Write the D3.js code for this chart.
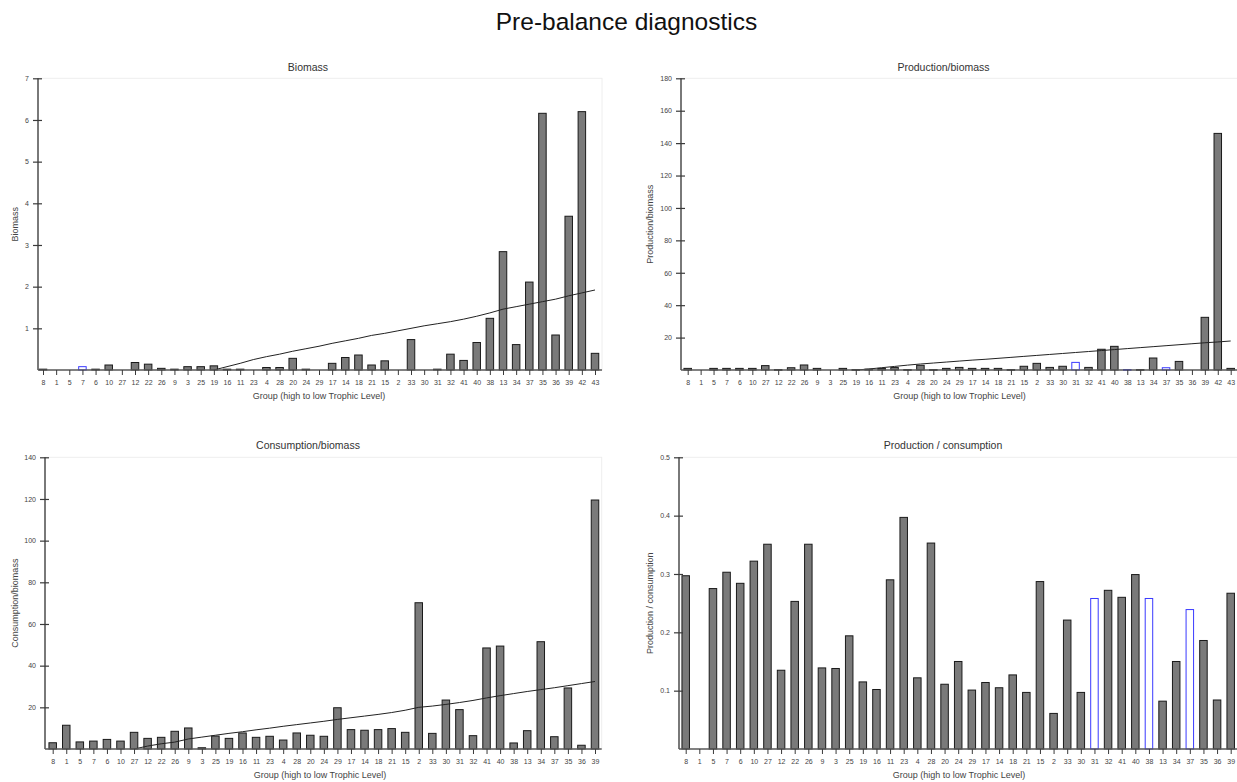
<!DOCTYPE html>
<html>
<head>
<meta charset="utf-8">
<script src="https://cdn.jsdelivr.net/npm/d3@7"></script>
<style>
  html, body { margin: 0; padding: 0; background: #fff; }
  svg { display: block; font-family: "Liberation Sans", Arial, sans-serif; }
</style>
</head>
<body>
<svg id="chart" width="1237" height="782"></svg>
<script>
// ---------------- DATA ----------------
const mainTitle = "Pre-balance diagnostics";
const xAxisTitle = "Group (high to low Trophic Level)";

const groupsTop = ["8","1","5","7","6","10","27","12","22","26","9","3","25","19","16","11","23","4","28","20","24","29","17","14","18","21","15","2","33","30","31","32","41","40","38","13","34","37","35","36","39","42","43"];
const groupsBottom = ["8","1","5","7","6","10","27","12","22","26","9","3","25","19","16","11","23","4","28","20","24","29","17","14","18","21","15","2","33","30","31","32","41","40","38","13","34","37","35","36","39"];

const biomassValues = [0.02,0,0,0.08,0.02,0.12,0,0.18,0.14,0.04,0.02,0.08,0.08,0.1,0.02,0.02,0,0.06,0.06,0.28,0.02,0,0.16,0.3,0.36,0.12,0.22,0,0.73,0,0.02,0.38,0.23,0.66,1.24,2.84,0.61,2.11,6.16,0.84,3.69,6.2,0.4];
const biomassBlue = ["7"];
const biomassTrendGroups = ["19","16","11","23","4","28","20","24","29","17","14","18","21","15","2","33","30","31","32","41","40","38","13","34","37","35","36","39","42","43"];
const biomassTrend = [0.0,0.08,0.16,0.25,0.32,0.38,0.45,0.51,0.57,0.64,0.70,0.76,0.83,0.88,0.94,1.0,1.06,1.11,1.16,1.22,1.29,1.37,1.46,1.52,1.58,1.64,1.70,1.78,1.85,1.92];
const biomassTicks = [1,2,3,4,5,6,7];

const pbValues = [1.0,0,1.0,1.0,1.0,1.0,2.7,0.3,1.4,3.1,1.0,0,1.0,0.3,0.5,1.0,1.5,0.3,2.9,0.3,1.0,1.6,1.0,1.0,1.0,0.3,2.3,4.1,1.6,2.3,4.7,1.6,12.8,14.6,0.3,0.3,7.4,1.4,5.3,0,32.5,146,1.0];
const pbBlue = ["31","38","37"];
const pbTrendGroups = ["19","16","11","23","4","28","20","24","29","17","14","18","21","15","2","33","30","31","32","41","40","38","13","34","37","35","36","39","42","43"];
const pbTrend = [0,0.6,1.4,2.2,3.0,3.7,4.3,4.9,5.5,6.1,6.6,7.2,7.8,8.4,9.0,9.6,10.2,10.8,11.4,12.0,12.6,13.2,13.8,14.4,15.0,15.6,16.2,16.8,17.3,17.9];
const pbTicks = [20,40,60,80,100,120,140,160,180];

const qbValues = [3.0,11.4,3.4,3.8,4.6,3.8,8.0,5.1,5.6,8.5,10.1,0.6,6.2,5.1,7.7,5.6,6.1,4.3,7.7,6.6,6.1,19.8,9.3,9.0,9.3,9.8,8.0,70.2,7.5,23.5,18.9,6.4,48.5,49.4,2.9,8.8,51.5,5.9,29.3,1.8,119.5];
const qbBlue = [];
const qbTrendGroups = ["27","12","22","26","9","3","25","19","16","11","23","4","28","20","24","29","17","14","18","21","15","2","33","30","31","32","41","40","38","13","34","37","35","36","39"];
const qbTrend = [0,1.4,2.5,3.3,4.8,5.7,6.6,7.5,8.3,9.2,10.0,10.9,11.7,12.5,13.3,14.2,15.0,15.8,16.6,17.5,18.6,20.0,20.6,21.4,22.3,23.3,24.5,25.6,26.6,27.6,28.5,29.4,30.4,31.4,32.4];
const qbTicks = [20,40,60,80,100,120,140];

const pqValues = [0.297,0,0.275,0.303,0.284,0.322,0.351,0.135,0.253,0.351,0.139,0.138,0.194,0.115,0.102,0.29,0.397,0.122,0.353,0.111,0.15,0.101,0.114,0.105,0.127,0.097,0.287,0.061,0.221,0.097,0.258,0.272,0.26,0.299,0.258,0.082,0.15,0.239,0.186,0.084,0.267];
const pqBlue = ["31","38","37"];
const pqTicks = [0.1,0.2,0.3,0.4,0.5];

// ---------------- LAYOUT ----------------
const svg = d3.select("#chart");

svg.append("text")
  .attr("x", 626.5).attr("y", 29.5)
  .attr("text-anchor", "middle")
  .attr("font-size", 24.5)
  .attr("fill", "#111")
  .text(mainTitle);

const panels = [
  { title: "Biomass", yTitle: "Biomass", groups: groupsTop, values: biomassValues, blue: biomassBlue,
    trendGroups: biomassTrendGroups, trend: biomassTrend, ymax: 7, ticks: biomassTicks, fmt: d3.format("d"),
    axisX: 38, right: 602, firstX: 43, lastX: 595, top: 78.3, base: 370,
    titleX: 308, titleY: 70.5, yTitleX: 15, xTitleX: 319 },
  { title: "Production/biomass", yTitle: "Production/biomass", groups: groupsTop, values: pbValues, blue: pbBlue,
    trendGroups: pbTrendGroups, trend: pbTrend, ymax: 180, ticks: pbTicks, fmt: d3.format("d"),
    axisX: 681, right: 1245, firstX: 687.7, lastX: 1230.7, top: 78.3, base: 370,
    titleX: 943.5, titleY: 70.5, yTitleX: 650, xTitleX: 959.5 },
  { title: "Consumption/biomass", yTitle: "Consumption/biomass", groups: groupsBottom, values: qbValues, blue: qbBlue,
    trendGroups: qbTrendGroups, trend: qbTrend, ymax: 140, ticks: qbTicks, fmt: d3.format("d"),
    axisX: 45, right: 601.7, firstX: 52.7, lastX: 595, top: 457.3, base: 749,
    titleX: 308, titleY: 448.5, yTitleX: 15, xTitleX: 320 },
  { title: "Production / consumption", yTitle: "Production / consumption", groups: groupsBottom, values: pqValues, blue: pqBlue,
    trendGroups: null, trend: null, ymax: 0.5, ticks: pqTicks, fmt: d3.format(".1f"),
    axisX: 679, right: 1245, firstX: 685.7, lastX: 1230.7, top: 457.3, base: 749,
    titleX: 943, titleY: 448.5, yTitleX: 650, xTitleX: 959 }
];

const barW = 7.5;

panels.forEach(p => {
  const g = svg.append("g");
  const x = d3.scalePoint().domain(p.groups).range([p.firstX, p.lastX]);
  const y = d3.scaleLinear().domain([0, p.ymax]).range([p.base, p.top]);

  // faint frame
  g.append("rect")
    .attr("x", p.axisX).attr("y", p.top)
    .attr("width", p.right - p.axisX).attr("height", p.base - p.top)
    .attr("fill", "none").attr("stroke", "#eeeeee").attr("stroke-width", 1);

  // panel title
  g.append("text")
    .attr("x", p.titleX).attr("y", p.titleY)
    .attr("text-anchor", "middle").attr("font-size", 10.5).attr("fill", "#333")
    .text(p.title);

  // bars
  const data = p.groups.map((k, i) => ({ k, v: p.values[i], blue: p.blue.includes(k) }));
  g.selectAll("rect.bar").data(data.filter(d => d.v > 0)).join("rect")
    .attr("class", "bar")
    .attr("x", d => x(d.k) - barW / 2)
    .attr("y", d => y(d.v))
    .attr("width", barW)
    .attr("height", d => Math.max(0.8, p.base - y(d.v)))
    .attr("fill", d => d.blue ? "#ffffff" : "#7a7a7a")
    .attr("stroke", d => d.blue ? "#3a3aff" : "#1a1a1a")
    .attr("stroke-width", 1);

  // trend line
  if (p.trend) {
    const tdata = p.trendGroups.map((k, i) => ({ k, v: p.trend[i] }));
    g.append("path")
      .datum(tdata)
      .attr("fill", "none").attr("stroke", "#222").attr("stroke-width", 1)
      .attr("d", d3.line().x(d => x(d.k)).y(d => y(d.v)));
  }

  // y axis
  const yAxis = d3.axisLeft(y).tickValues(p.ticks).tickFormat(p.fmt).tickSizeInner(5).tickSizeOuter(0).tickPadding(4);
  const ya = g.append("g").attr("transform", `translate(${p.axisX},0)`).call(yAxis);
  ya.select(".domain").attr("stroke", "#5a5a5a").attr("stroke-width", 1.6)
    .attr("d", `M0,${p.top}V${p.base}`);
  ya.selectAll(".tick line").attr("x1", 4).attr("x2", -5).attr("stroke", "#3a3a3a").attr("stroke-width", 1.2);
  ya.selectAll(".tick text").attr("font-size", 7).attr("fill", "#444").attr("font-family", "Liberation Sans, Arial, sans-serif");

  // x axis
  const xAxis = d3.axisBottom(x).tickSizeInner(5).tickSizeOuter(0).tickPadding(5);
  const xa = g.append("g").attr("transform", `translate(0,${p.base})`).call(xAxis);
  xa.select(".domain").attr("stroke", "#5a5a5a").attr("stroke-width", 1.6)
    .attr("d", `M${p.axisX},0H${p.right}`);
  xa.selectAll(".tick line").attr("stroke", "#3a3a3a").attr("stroke-width", 1);
  xa.selectAll(".tick text").attr("font-size", 7).attr("fill", "#444").attr("font-family", "Liberation Sans, Arial, sans-serif");

  // axis titles
  g.append("text")
    .attr("x", p.xTitleX).attr("y", p.base + 28.5)
    .attr("text-anchor", "middle").attr("font-size", 9).attr("fill", "#444")
    .text(xAxisTitle);
  g.append("text")
    .attr("transform", `translate(${p.yTitleX},${(p.top + p.base) / 2}) rotate(-90)`)
    .attr("text-anchor", "middle").attr("dy", "0.35em").attr("font-size", 9).attr("fill", "#444")
    .text(p.yTitle);
});
</script>
</body>
</html>
